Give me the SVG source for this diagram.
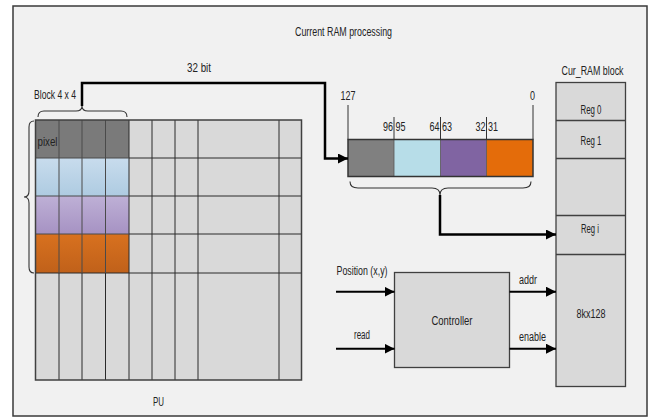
<svg xmlns="http://www.w3.org/2000/svg" width="652" height="418" viewBox="0 0 652 418">
  <style>
    text { font-family: "Liberation Sans", Arial, sans-serif; font-size: 12px; fill: #222; }
    .mid { text-anchor: middle; }
    .end { text-anchor: end; }
    .frame { fill: #f1f1f1; stroke: #3a3a3a; stroke-width: 1.5; }
    .box { fill: #d9d9d9; stroke: #404040; stroke-width: 1.3; }
    .cellgrid { fill: none; stroke: #2a2a2a; stroke-width: 1; }
    .blockgrid { fill: none; stroke: #4a4a4a; stroke-width: 1; }
    .brace { fill: none; stroke: #333; stroke-width: 1.1; }
    .wire { fill: none; stroke: #000; stroke-width: 2.5; }
    .sig { fill: none; stroke: #000; stroke-width: 2; }
    .tick { stroke: #333; stroke-width: 1; }
  </style>
  <defs>
    <marker id="arrow" viewBox="0 0 10 10" refX="10" refY="5" markerWidth="10" markerHeight="10" markerUnits="userSpaceOnUse" orient="auto">
      <path d="M0,0 L10,5 L0,10 Z" fill="#000"/>
    </marker>
    <linearGradient id="gBlue" x1="0" y1="0" x2="0" y2="1">
      <stop offset="0" stop-color="#c8dced"/>
      <stop offset="1" stop-color="#aecbe1"/>
    </linearGradient>
    <linearGradient id="gPurple" x1="0" y1="0" x2="0" y2="1">
      <stop offset="0" stop-color="#beb0d6"/>
      <stop offset="1" stop-color="#a692c3"/>
    </linearGradient>
    <linearGradient id="gOrange" x1="0" y1="0" x2="0" y2="1">
      <stop offset="0" stop-color="#d8711f"/>
      <stop offset="1" stop-color="#c0611a"/>
    </linearGradient>
  </defs>

  <rect width="652" height="418" fill="#ffffff"/>
  <rect class="frame" x="13" y="6" width="634" height="410"/>

  <text class="mid" x="343.5" y="35.5" textLength="97" lengthAdjust="spacingAndGlyphs">Current RAM processing</text>

  <!-- Processing unit pixel grid -->
  <g id="pu-grid">
    <rect x="35.5" y="120" width="266" height="260" fill="#d9d9d9"/>
    <!-- highlighted 4x4 block rows -->
    <rect x="35.5" y="120" width="93.5" height="38" fill="#7a7a7a"/>
    <rect x="35.5" y="158" width="93.5" height="38" fill="url(#gBlue)"/>
    <rect x="35.5" y="196" width="93.5" height="38" fill="url(#gPurple)"/>
    <rect x="35.5" y="234" width="93.5" height="39" fill="url(#gOrange)"/>
    <path class="cellgrid" d="M152,120V380 M175,120V380 M198,120V380 M279,120V380
      M129,158H301.5 M129,196H301.5 M129,234H301.5 M35.5,273H301.5
      M59,273V380 M82,273V380 M105.5,273V380 M129,120V380"/>
    <path class="blockgrid" d="M59,120V273 M82,120V273 M105.5,120V273
      M35.5,158H129 M35.5,196H129 M35.5,234H129"/>
    <rect x="35.5" y="120" width="266" height="260" fill="none" stroke="#404040" stroke-width="1.5"/>
    <text x="37.5" y="145.5" textLength="20" lengthAdjust="spacingAndGlyphs">pixel</text>
    <text class="mid" x="158.5" y="406" textLength="11" lengthAdjust="spacingAndGlyphs">PU</text>
  </g>

  <!-- Block braces -->
  <g id="block-label">
    <text class="mid" x="55" y="99" textLength="42" lengthAdjust="spacingAndGlyphs">Block 4 x 4</text>
    <path class="brace" d="M38,117 Q38,111 44,111 L76,111 Q82,111 82,106 Q82,111 88,111 L121,111 Q127,111 127,117"/>
    <path class="brace" d="M34,121 Q29,121 29,127 L29,191 Q29,197 24,197 Q29,197 29,203 L29,267 Q29,273 34,273"/>
  </g>

  <!-- 128-bit register word -->
  <g id="word">
    <rect x="348" y="139.5" width="46" height="37" fill="#808080"/>
    <rect x="394" y="139.5" width="46.5" height="37" fill="#b7dde8"/>
    <rect x="440.5" y="139.5" width="46" height="37" fill="#8064a2"/>
    <rect x="486.5" y="139.5" width="46.5" height="37" fill="#e46c0a"/>
    <path d="M394,139.5V176.5 M440.5,139.5V176.5 M486.5,139.5V176.5" stroke="#555" stroke-width="0.8"/>
    <rect x="348" y="139.5" width="185" height="37" fill="none" stroke="#333" stroke-width="1.5"/>
    <line class="tick" x1="348" y1="105" x2="348" y2="139.5"/>
    <line class="tick" x1="533" y1="105" x2="533" y2="139.5"/>
    <line class="tick" x1="394" y1="117" x2="394" y2="139.5"/>
    <line class="tick" x1="440.5" y1="117" x2="440.5" y2="139.5"/>
    <line class="tick" x1="486.5" y1="117" x2="486.5" y2="139.5"/>
    <text class="mid" x="348" y="99.5" textLength="15" lengthAdjust="spacingAndGlyphs">127</text>
    <text class="mid" x="532.5" y="99.5" textLength="5" lengthAdjust="spacingAndGlyphs">0</text>
    <text class="end" x="393" y="131" textLength="10" lengthAdjust="spacingAndGlyphs">96</text>
    <text x="395.5" y="131" textLength="10" lengthAdjust="spacingAndGlyphs">95</text>
    <text class="end" x="439.5" y="131" textLength="10" lengthAdjust="spacingAndGlyphs">64</text>
    <text x="442" y="131" textLength="10" lengthAdjust="spacingAndGlyphs">63</text>
    <text class="end" x="485.5" y="131" textLength="10" lengthAdjust="spacingAndGlyphs">32</text>
    <text x="488" y="131" textLength="10" lengthAdjust="spacingAndGlyphs">31</text>
    <path class="brace" d="M350,181.5 Q350,188 358,188 L432,188 Q440,188 440,195 Q440,188 448,188 L523,188 Q531,188 531,181.5"/>
  </g>

  <!-- Controller -->
  <g id="controller">
    <rect class="box" x="394.5" y="272.5" width="115" height="95"/>
    <text class="mid" x="452" y="324.5" textLength="41" lengthAdjust="spacingAndGlyphs">Controller</text>
  </g>

  <!-- Cur_RAM block memory -->
  <g id="cur-ram">
    <text class="mid" x="592.5" y="75" textLength="62" lengthAdjust="spacingAndGlyphs">Cur_RAM block</text>
    <rect class="box" x="556" y="82.5" width="69.5" height="304"/>
    <path d="M556,120.5H625.5 M556,158.5H625.5 M556,215.5H625.5 M556,254.5H625.5" stroke="#404040" stroke-width="1.3"/>
    <text class="mid" x="591" y="114" textLength="21" lengthAdjust="spacingAndGlyphs">Reg 0</text>
    <text class="mid" x="591" y="145" textLength="21" lengthAdjust="spacingAndGlyphs">Reg 1</text>
    <text class="mid" x="590" y="233" textLength="18" lengthAdjust="spacingAndGlyphs">Reg i</text>
    <text class="mid" x="591" y="317.5" textLength="29" lengthAdjust="spacingAndGlyphs">8kx128</text>
  </g>

  <!-- Connectors -->
  <g id="connectors">
    <path class="wire" d="M82,106 V83 H325 V158.5 H348" marker-end="url(#arrow)"/>
    <path class="wire" d="M440,195 V234.5 H556" marker-end="url(#arrow)"/>
    <path class="sig" d="M336,291.7 H394.5" marker-end="url(#arrow)"/>
    <path class="sig" d="M336,348.7 H394.5" marker-end="url(#arrow)"/>
    <path class="sig" d="M509.5,291.7 H556" marker-end="url(#arrow)"/>
    <path class="sig" d="M509.5,348.7 H556" marker-end="url(#arrow)"/>
    <text class="mid" x="199" y="72" textLength="24" lengthAdjust="spacingAndGlyphs">32 bit</text>
    <text class="mid" x="362" y="275" textLength="51" lengthAdjust="spacingAndGlyphs">Position (x,y)</text>
    <text class="mid" x="362" y="338.5" textLength="16" lengthAdjust="spacingAndGlyphs">read</text>
    <text class="mid" x="528" y="283.5" textLength="18" lengthAdjust="spacingAndGlyphs">addr</text>
    <text class="mid" x="532.5" y="340.5" textLength="27" lengthAdjust="spacingAndGlyphs">enable</text>
  </g>
</svg>
